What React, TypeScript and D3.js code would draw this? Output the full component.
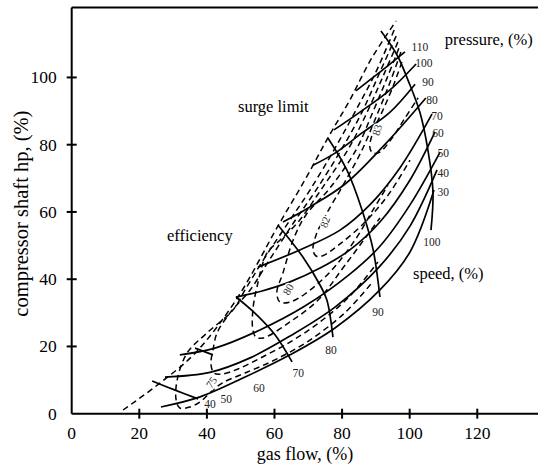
import React from 'react';
import * as d3 from 'd3';

type Pt = [number, number];

// axis ticks
const xTicks = [0, 20, 40, 60, 80, 100, 120];
const yTicks = [0, 20, 40, 60, 80, 100];

// constant pressure lines (gas flow %, shaft hp %)
const pressureLabels = ['30', '40', '50', '60', '70', '80', '90', '100', '110'];
const p30: Pt[] = [[26.4, 2.0], [38.0, 5.0], [51.3, 10.9], [64.6, 17.5], [77.9, 25.5], [91.2, 36.8], [100.1, 48.1], [107.2, 66.5]];
const p40: Pt[] = [[27.6, 10.9], [40.9, 12.3], [52.8, 16.6], [64.6, 23.1], [77.9, 31.7], [91.2, 43.9], [100.1, 55.8], [108.1, 72.5]];
const p50: Pt[] = [[32.0, 17.5], [42.4, 19.5], [55.7, 24.9], [69.0, 32.0], [82.3, 41.5], [91.2, 49.8], [100.1, 62.1], [109.0, 77.8]];
const p60: Pt[] = [[48.6, 34.7], [56.3, 36.5], [64.6, 39.2], [73.5, 43.3], [82.3, 48.7], [91.2, 57.0], [100.1, 69.5], [107.5, 83.8]];
const p70: Pt[] = [[55.1, 43.6], [67.5, 48.7], [79.4, 54.6], [88.2, 62.1], [97.1, 73.1], [106.6, 89.1]];
const p80: Pt[] = [[62.5, 57.0], [70.5, 61.5], [80.9, 68.3], [92.7, 80.1], [104.8, 93.9]];
const p90: Pt[] = [[71.4, 73.9], [77.9, 77.5], [85.9, 83.5], [94.2, 89.7], [101.6, 98.0]];
const p100: Pt[] = [[77.6, 84.4], [85.3, 89.7], [94.2, 96.3], [101.9, 104.0]];
const p110: Pt[] = [[84.1, 96.0], [91.2, 101.6], [98.6, 107.6]];
const pressureLabelPos: Pt[] = [[109.9, 66.0], [109.9, 71.6], [109.9, 77.5], [108.4, 83.5], [108.1, 88.5], [106.6, 93.3], [105.4, 98.6], [104.2, 104.3], [103.0, 109.0]];

// constant speed lines
const speedLabels = ['40', '50', '60', '70', '80', '90', '100'];
const s40: Pt[] = [[23.8, 9.7], [30.6, 7.0], [37.4, 4.4]];
const s50: Pt[] = [[36.5, 19.5], [41.8, 17.5]];
const s70: Pt[] = [[48.6, 34.7], [54.2, 29.9], [60.2, 23.4], [65.2, 15.4]];
const s80: Pt[] = [[61.0, 56.1], [68.4, 46.6], [73.5, 38.2], [75.5, 33.8], [77.3, 22.8]];
const s90: Pt[] = [[75.8, 82.0], [81.4, 72.5], [85.9, 60.6], [89.2, 48.7], [91.2, 34.7]];
const s100: Pt[] = [[91.5, 113.8], [96.3, 106.6], [99.5, 99.2], [103.0, 89.7], [105.4, 78.4], [106.9, 65.9], [106.3, 54.6]];
const speedLabelPos: Pt[] = [[40.9, 2.9], [45.7, 4.4], [55.4, 7.6], [67.0, 12.1], [76.7, 18.9], [90.6, 30.2], [106.6, 51.0]];

// surge limit (dashed)
const surge: Pt[] = [[15.2, 1.1], [26.1, 9.1], [36.8, 18.3], [49.0, 34.4], [61.0, 55.8], [69.0, 69.5], [75.8, 82.0], [82.3, 93.3], [88.8, 105.8], [96.0, 116.8]];

// efficiency contours (dashed)
const effA: Pt[] = [[95.4, 114.1], [90.0, 101.6], [83.8, 89.7], [77.6, 78.4], [70.5, 66.5], [64.6, 57.6], [56.3, 45.1], [51.3, 36.8], [47.7, 30.8], [40.0, 24.0], [34.1, 18.0], [31.2, 10.0], [30.9, 4.1], [32.0, 1.7], [35.0, 2.0], [38.0, 3.5], [40.9, 6.2], [44.5, 9.1], [51.3, 12.1], [60.1, 16.0], [70.5, 21.9], [80.9, 30.1], [88.8, 38.9]];
const effB: Pt[] = [[96.0, 112.3], [91.2, 101.6], [85.9, 89.7], [79.7, 78.4], [72.3, 66.5], [65.8, 57.0], [58.1, 45.1], [52.8, 36.8], [46.8, 29.9], [43.0, 24.0], [41.8, 18.9], [41.2, 14.8], [42.1, 12.1], [44.5, 11.8], [49.2, 13.3], [56.3, 16.8], [64.6, 21.3], [73.5, 27.3], [82.3, 35.0], [90.6, 45.1]];
const effC: Pt[] = [[96.5, 110.5], [92.4, 101.0], [87.7, 90.3], [82.0, 79.0], [74.1, 67.1], [67.0, 57.0], [61.6, 51.6], [57.8, 47.8], [54.8, 37.6], [53.6, 30.8], [53.6, 24.9], [54.5, 22.8], [56.6, 22.5], [64.6, 27.3], [72.9, 33.8], [80.9, 44.2], [91.2, 58.2]];
const effD: Pt[] = [[96.8, 108.7], [93.3, 99.8], [89.1, 89.7], [84.1, 78.4], [76.4, 67.1], [69.3, 59.1], [65.5, 51.6], [62.5, 41.8], [60.7, 36.2], [61.6, 33.2], [64.6, 33.2], [69.0, 35.6], [76.4, 42.1], [83.8, 51.6], [88.8, 60.0], [93.6, 68.0]];
const effE: Pt[] = [[97.4, 107.6], [94.2, 98.6], [90.3, 88.8], [85.9, 78.4], [80.3, 68.0], [75.2, 59.1], [72.3, 53.1], [71.4, 48.7], [72.3, 46.9], [74.1, 46.9], [79.4, 50.5], [86.8, 57.0], [93.6, 65.0], [100.1, 75.4]];
const effF: Pt[] = [[97.7, 104.6], [95.1, 97.4], [92.1, 90.3], [89.4, 84.4], [88.2, 79.3], [89.1, 77.5], [91.2, 77.8], [94.8, 82.0], [98.6, 87.9], [102.5, 93.9]];
const effLabels = ['75', '80', '82', '83'];
const effLabelPos: Pt[] = [[41.3, 9.4], [64.0, 37.0], [74.9, 57.0], [90.3, 84.4]];
const effLabelAngle = [-55, -60, -70, -75];

// annotations
const noteTexts = ['pressure, (%)', 'surge limit', 'efficiency', 'speed, (%)'];
const notePos: Pt[] = [[110.4, 109.6], [49.2, 89.7], [28.2, 51.4], [101.0, 40.0]];

const W = 538;
const H = 465;
const FONT = '"Liberation Serif", "Times New Roman", serif';

export default function App() {
  const x = d3.scaleLinear().domain([0, 138]).range([71.7, 538.1]);
  const y = d3.scaleLinear().domain([0, 120.8]).range([413.7, 7.5]);
  const line = d3
    .line<Pt>()
    .x((d) => x(d[0]))
    .y((d) => y(d[1]))
    .curve(d3.curveCatmullRom.alpha(0.5));

  const solids = [p30, p40, p50, p60, p70, p80, p90, p100, p110, s40, s50, s70, s80, s90, s100];
  const dashed = [surge, effA, effB, effC, effD, effE, effF];
  const x0 = x(0);
  const yTop = y(120.8);
  const y0 = y(0);

  return (
    <div style={{ position: 'absolute', left: 0, top: 0 }}>
      <svg width={W} height={H} style={{ display: 'block', background: '#fff' }} fontFamily={FONT}>
        {/* frame */}
        <line x1={x0} y1={yTop} x2={W} y2={yTop} stroke="#000" strokeWidth={2} />
        <line x1={x0} y1={yTop} x2={x0} y2={y0} stroke="#000" strokeWidth={2} />
        <line x1={x0} y1={y0} x2={W} y2={y0} stroke="#000" strokeWidth={2} />
        {xTicks.map((t) => (
          <g key={'xt' + t}>
            {t > 0 && <line x1={x(t)} x2={x(t)} y1={y0 - 5} y2={y0 + 5} stroke="#000" strokeWidth={2} />}
            <text x={x(t)} y={y0 + 25} textAnchor="middle" fontSize={17.5}>
              {t}
            </text>
          </g>
        ))}
        {yTicks.map((t) => (
          <g key={'yt' + t}>
            {t > 0 && <line x1={x0 - 5} x2={x0 + 5} y1={y(t)} y2={y(t)} stroke="#000" strokeWidth={2} />}
            <text x={x0 - 15} y={y(t)} textAnchor="end" dominantBaseline="central" fontSize={17.5}>
              {t}
            </text>
          </g>
        ))}
        <text x={305} y={460} textAnchor="middle" fontSize={18}>
          gas flow, (%)
        </text>
        <text transform={`translate(21,${(yTop + y0) / 2 + 3}) rotate(-90)`} textAnchor="middle" dominantBaseline="central" fontSize={20.5}>
          compressor shaft hp, (%)
        </text>

        {solids.map((d, i) => (
          <path key={'s' + i} d={line(d) || ''} fill="none" stroke="#000" strokeWidth={1.7} />
        ))}
        {dashed.map((d, i) => (
          <path key={'d' + i} d={line(d) || ''} fill="none" stroke="#000" strokeWidth={1.5} strokeDasharray="6,4" />
        ))}

        {pressureLabels.map((l, i) => (
          <text
            key={'pl' + l}
            transform={`translate(${x(pressureLabelPos[i][0])},${y(pressureLabelPos[i][1])}) rotate(0.01)`}
            textAnchor="middle"
            dominantBaseline="central"
            fontSize={11.5}
            fill="#222"
          >
            {l}
          </text>
        ))}
        {speedLabels.map((l, i) => (
          <text
            key={'sl' + l}
            transform={`translate(${x(speedLabelPos[i][0])},${y(speedLabelPos[i][1])}) rotate(0.01)`}
            textAnchor="middle"
            dominantBaseline="central"
            fontSize={11.5}
            fill="#222"
          >
            {l}
          </text>
        ))}
        {effLabels.map((l, i) => (
          <text
            key={'el' + l}
            transform={`translate(${x(effLabelPos[i][0])},${y(effLabelPos[i][1])}) rotate(${effLabelAngle[i]})`}
            textAnchor="middle"
            dominantBaseline="central"
            fontSize={11}
            fill="#333"
            stroke="#fff"
            strokeWidth={3}
            paintOrder="stroke"
          >
            {l}
          </text>
        ))}
        {noteTexts.map((t, i) => (
          <text key={'n' + i} x={x(notePos[i][0])} y={y(notePos[i][1])} fontSize={16.5}>
            {t}
          </text>
        ))}
      </svg>
    </div>
  );
}
